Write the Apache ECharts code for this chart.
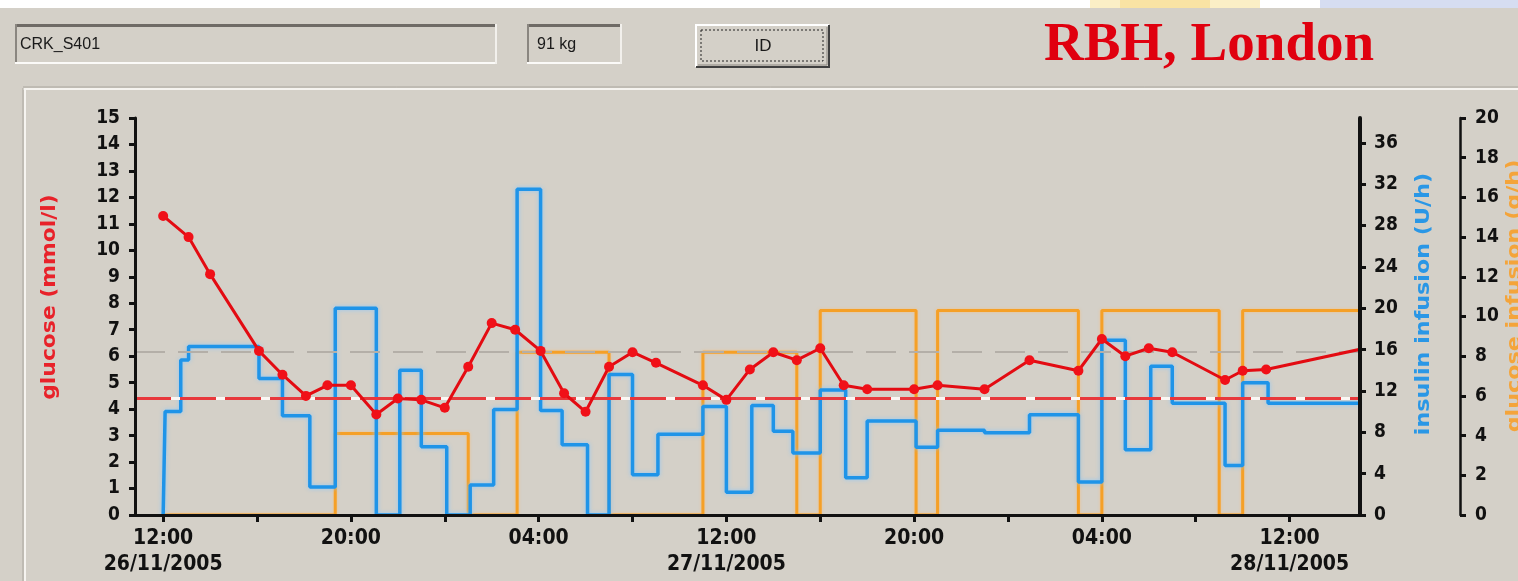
<!DOCTYPE html>
<html>
<head>
<meta charset="utf-8">
<title>RBH, London</title>
<script src="https://cdn.jsdelivr.net/npm/echarts@6/dist/echarts.min.js"></script>
<style>
  html, body { margin: 0; padding: 0; background: #d4d0c8; }
  #chart { width: 1518px; height: 581px; }
</style>
</head>
<body>
<div id="chart"></div>
<script>
// ---- header fields ----
const patientId = 'CRK_S401';
const bodyWeight = '91 kg';
const buttonLabel = 'ID';
const siteTitle = 'RBH, London';

// ---- axis titles ----
const glucoseAxisTitle = 'glucose (mmol/l)';
const insulinAxisTitle = 'insulin infusion (U/h)';
const infusionAxisTitle = 'glucose infusion (g/h)';

// ---- time window ----
const baseTime = '2005-11-26 12:00';
const viewStart = '2005-11-26 10:48';
const viewEnd = '2005-11-28 15:00';
const tickTimes = [
  '2005-11-26 12:00', '2005-11-26 16:00', '2005-11-26 20:00', '2005-11-27 00:00',
  '2005-11-27 04:00', '2005-11-27 08:00', '2005-11-27 12:00', '2005-11-27 16:00',
  '2005-11-27 20:00', '2005-11-28 00:00', '2005-11-28 04:00', '2005-11-28 08:00',
  '2005-11-28 12:00'
];
const labelTimes = [
  '2005-11-26 12:00', '2005-11-26 20:00', '2005-11-27 04:00', '2005-11-27 12:00',
  '2005-11-27 20:00', '2005-11-28 04:00', '2005-11-28 12:00'
];

// ---- blood glucose measurements (mmol/l) ----
const glucoseTimes = [
  '2005-11-26 12:00', '2005-11-26 13:05', '2005-11-26 14:00', '2005-11-26 16:05',
  '2005-11-26 17:05', '2005-11-26 18:05', '2005-11-26 19:00', '2005-11-26 20:00',
  '2005-11-26 21:05', '2005-11-26 22:00', '2005-11-26 23:00', '2005-11-27 00:00',
  '2005-11-27 01:00', '2005-11-27 02:00', '2005-11-27 03:00', '2005-11-27 04:05',
  '2005-11-27 05:05', '2005-11-27 06:00', '2005-11-27 07:00', '2005-11-27 08:00',
  '2005-11-27 09:00', '2005-11-27 11:00', '2005-11-27 12:00', '2005-11-27 13:00',
  '2005-11-27 14:00', '2005-11-27 15:00', '2005-11-27 16:00', '2005-11-27 17:00',
  '2005-11-27 18:00', '2005-11-27 20:00', '2005-11-27 21:00', '2005-11-27 23:00',
  '2005-11-28 00:55', '2005-11-28 03:00', '2005-11-28 04:00', '2005-11-28 05:00',
  '2005-11-28 06:00', '2005-11-28 07:00', '2005-11-28 09:15', '2005-11-28 10:00',
  '2005-11-28 11:00', '2005-11-28 16:00'
];
const glucoseValues = [
  11.3, 10.5, 9.1, 6.2, 5.3, 4.5, 4.9, 4.9,
  3.8, 4.4, 4.35, 4.05, 5.6, 7.25, 7.0, 6.2,
  4.6, 3.9, 5.6, 6.15, 5.75, 4.9, 4.35, 5.5,
  6.15, 5.85, 6.3, 4.9, 4.75, 4.75, 4.9, 4.75,
  5.85, 5.45, 6.65, 6.0, 6.3, 6.15, 5.1, 5.45,
  5.5, 6.45
];

// ---- insulin infusion rate changes (U/h) ----
const insulinTimes = [
  '2005-11-26 12:00', '2005-11-26 12:05', '2005-11-26 12:45', '2005-11-26 13:05',
  '2005-11-26 16:05', '2005-11-26 17:05', '2005-11-26 18:15', '2005-11-26 19:20',
  '2005-11-26 21:05', '2005-11-26 22:05', '2005-11-26 23:00', '2005-11-27 00:05',
  '2005-11-27 01:05', '2005-11-27 02:05', '2005-11-27 03:05', '2005-11-27 04:05',
  '2005-11-27 05:00', '2005-11-27 06:05', '2005-11-27 07:00', '2005-11-27 08:00',
  '2005-11-27 09:05', '2005-11-27 11:00', '2005-11-27 12:00', '2005-11-27 13:05',
  '2005-11-27 14:00', '2005-11-27 14:50', '2005-11-27 16:00', '2005-11-27 17:05',
  '2005-11-27 18:00', '2005-11-27 20:05', '2005-11-27 21:00', '2005-11-27 23:00',
  '2005-11-28 00:55', '2005-11-28 03:00', '2005-11-28 04:00', '2005-11-28 05:00',
  '2005-11-28 06:05', '2005-11-28 07:00', '2005-11-28 09:15', '2005-11-28 10:00',
  '2005-11-28 11:05', '2005-11-28 15:00'
];
const insulinRates = [
  0, 10, 15, 16.3, 13.2, 9.6, 2.7, 20,
  0, 14, 6.6, 0, 2.9, 10.2, 31.5, 10.1,
  6.8, 0, 13.6, 3.9, 7.8, 10.5, 2.2, 10.6,
  8.1, 6.0, 12.1, 3.6, 9.1, 6.55, 8.2, 7.95,
  9.7, 3.2, 16.9, 6.3, 14.4, 10.8, 4.8, 12.8,
  10.8, 10.8
];

// ---- glucose infusion rate changes (g/h) ----
const infusionTimes = [
  '2005-11-26 12:00', '2005-11-26 19:20', '2005-11-27 01:00', '2005-11-27 03:05',
  '2005-11-27 07:00', '2005-11-27 11:00', '2005-11-27 15:00', '2005-11-27 16:00',
  '2005-11-27 20:05', '2005-11-27 21:00', '2005-11-28 03:00', '2005-11-28 04:00',
  '2005-11-28 09:00', '2005-11-28 10:00', '2005-11-28 15:00'
];
const infusionRates = [0, 4.1, 0, 8.2, 0, 8.2, 0, 10.3, 0, 10.3, 0, 10.3, 0, 10.3, 10.3];

// ---- target band (mmol/l) ----
const targetLow = 4.4;
const targetHigh = 6.15;

// ---- y-axis scales ----
const glucoseMax = 15;
const insulinMax = 38.4;
const insulinTicks = [0, 4, 8, 12, 16, 20, 24, 28, 32, 36];
const infusionMax = 20;

// ---- helpers ----
function toUtc(s) {
  const [d, t] = s.split(' ');
  const [Y, M, D] = d.split('-').map(Number);
  const [h, m] = t.split(':').map(Number);
  return Date.UTC(Y, M - 1, D, h, m);
}
const baseMs = toUtc(baseTime);
const hoursOf = s => (toUtc(s) - baseMs) / 3600000;
const pairs = (times, vals) => times.map((t, i) => [hoursOf(t), vals[i]]);
const pad = n => String(n).padStart(2, '0');
function timeLabel(v) {
  const d = new Date(baseMs + Math.round(v * 3600000));
  const hm = pad(d.getUTCHours()) + ':' + pad(d.getUTCMinutes());
  if (d.getUTCHours() === 12) {
    return hm + '\n' + pad(d.getUTCDate()) + '/' + pad(d.getUTCMonth() + 1) + '/' + d.getUTCFullYear();
  }
  return hm;
}

const BG = '#d4d0c8';
const RED = '#e30b12';
const BLUE = '#1f94e8';
const ORANGE = '#f5a027';
const tickFont = '"DejaVu Sans Condensed", "DejaVu Sans", sans-serif';
const nameFont = '"DejaVu Sans", sans-serif';

const chart = echarts.init(document.getElementById('chart'), null, { renderer: 'canvas' });

const yLabelStyle = { color: '#111', fontFamily: tickFont, fontWeight: 'bold', fontSize: 19 };

// sunken text field helper (Windows-classic look)
function sunkenField(x, y, w, h) {
  return [
    { type: 'rect', shape: { x, y, width: w, height: h }, style: { fill: BG } },
    { type: 'rect', shape: { x, y, width: w, height: 3 }, style: { fill: '#6f6b66' } },
    { type: 'rect', shape: { x, y, width: 2, height: h }, style: { fill: '#8a8680' } },
    { type: 'rect', shape: { x, y: y + h - 2, width: w, height: 2 }, style: { fill: '#fbfaf8' } },
    { type: 'rect', shape: { x: x + w - 2, y, width: 2, height: h }, style: { fill: '#f2f0ec' } }
  ];
}

const graphics = [
  // top page strip
  { type: 'rect', shape: { x: 0, y: 0, width: 1518, height: 8 }, style: { fill: '#ffffff' } },
  { type: 'rect', shape: { x: 1090, y: 0, width: 170, height: 8 }, style: { fill: '#fbefc6' } },
  { type: 'rect', shape: { x: 1120, y: 0, width: 90, height: 8 }, style: { fill: '#f9e3a4' } },
  { type: 'rect', shape: { x: 1320, y: 0, width: 198, height: 8 }, style: { fill: '#d6ddf1' } },
  // panel frame
  { type: 'line', shape: { x1: 23, y1: 87, x2: 1518, y2: 87 }, style: { stroke: '#aaa69e', lineWidth: 1 } },
  { type: 'line', shape: { x1: 23, y1: 89, x2: 1518, y2: 89 }, style: { stroke: '#f6f4f0', lineWidth: 2 } },
  { type: 'line', shape: { x1: 23, y1: 88, x2: 23, y2: 581 }, style: { stroke: '#aaa69e', lineWidth: 1 } },
  { type: 'line', shape: { x1: 25, y1: 89, x2: 25, y2: 581 }, style: { stroke: '#f6f4f0', lineWidth: 2 } },
  ...sunkenField(15, 24, 482, 40),
  ...sunkenField(527, 24, 95, 40),
  // ID button (raised, with focus rectangle)
  { type: 'rect', shape: { x: 695, y: 24, width: 135, height: 44 }, style: { fill: BG } },
  { type: 'polyline', shape: { points: [[696, 67], [696, 25], [829, 25]] }, style: { stroke: '#ffffff', lineWidth: 2, fill: null } },
  { type: 'polyline', shape: { points: [[696, 67], [829, 67], [829, 25]] }, style: { stroke: '#404040', lineWidth: 2, fill: null } },
  { type: 'polyline', shape: { points: [[698, 65], [827, 65], [827, 27]] }, style: { stroke: '#8a8680', lineWidth: 1, fill: null } },
  { type: 'rect', shape: { x: 701, y: 30, width: 122, height: 31 }, style: { fill: null, stroke: '#222', lineWidth: 1, lineDash: [2, 2] } },
  { type: 'text', x: 20, y: 45, style: { text: patientId, font: '16px "Liberation Sans Narrow", "Liberation Sans", sans-serif', fill: '#1a1a1a', align: 'left', verticalAlign: 'middle' } },
  { type: 'text', x: 537, y: 45, style: { text: bodyWeight, font: '16px "Liberation Sans Narrow", "Liberation Sans", sans-serif', fill: '#1a1a1a', align: 'left', verticalAlign: 'middle' } },
  { type: 'text', x: 763, y: 46, style: { text: buttonLabel, font: '17px "Liberation Sans Narrow", "Liberation Sans", sans-serif', fill: '#1a1a1a', align: 'center', verticalAlign: 'middle' } },
  { type: 'text', x: 1209, y: 46, style: { text: siteTitle, font: 'bold 55px "Liberation Serif", serif', fill: '#e0000f', align: 'center', verticalAlign: 'middle' } },
  // axis titles
  { type: 'text', x: 50, y: 297, rotation: Math.PI / 2, scaleX: 1.15, style: { text: glucoseAxisTitle, font: 'bold 19px ' + nameFont, fill: '#e8222a', align: 'center', verticalAlign: 'middle' } },
  { type: 'text', x: 1424, y: 304, rotation: Math.PI / 2, scaleX: 1.17, style: { text: insulinAxisTitle, font: 'bold 19px ' + nameFont, fill: '#2a97e6', align: 'center', verticalAlign: 'middle' } },
  { type: 'text', x: 1515, y: 296, rotation: Math.PI / 2, scaleX: 1.17, style: { text: infusionAxisTitle, font: 'bold 19px ' + nameFont, fill: '#f4a43a', align: 'center', verticalAlign: 'middle' } }
];

const option = {
  animation: false,
  backgroundColor: BG,
  grid: { left: 135, right: 158, top: 118, bottom: 66, containLabel: false },
  xAxis: {
    type: 'value',
    min: hoursOf(viewStart),
    max: hoursOf(viewEnd),
    z: 8,
    splitLine: { show: false },
    axisLine: { show: true, onZero: false, lineStyle: { color: '#111', width: 3 } },
    axisTick: { show: true, length: 7, lineStyle: { color: '#111', width: 3 }, customValues: tickTimes.map(hoursOf) },
    axisLabel: {
      customValues: labelTimes.map(hoursOf),
      formatter: timeLabel,
      color: '#111', fontFamily: tickFont, fontWeight: 'bold', fontSize: 21, lineHeight: 26, margin: 11
    }
  },
  yAxis: [
    {
      type: 'value', min: 0, max: glucoseMax, interval: 1, position: 'left', z: 8,
      splitLine: { show: false },
      axisLine: { show: true, onZero: false, lineStyle: { color: '#111', width: 3 } },
      axisTick: { show: true, length: 6, lineStyle: { color: '#111', width: 3 } },
      axisLabel: Object.assign({ margin: 15 }, yLabelStyle)
    },
    {
      type: 'value', min: 0, max: insulinMax, position: 'right', z: 8,
      splitLine: { show: false },
      axisLine: { show: true, onZero: false, lineStyle: { color: '#111', width: 4 } },
      axisTick: { show: true, length: 6, lineStyle: { color: '#111', width: 3 }, customValues: insulinTicks },
      axisLabel: Object.assign({ margin: 14, customValues: insulinTicks }, yLabelStyle)
    },
    {
      type: 'value', min: 0, max: infusionMax, interval: 2, position: 'right', offset: 100, z: 8,
      splitLine: { show: false },
      axisLine: { show: true, onZero: false, lineStyle: { color: '#111', width: 2.5 } },
      axisTick: { show: true, length: 6, lineStyle: { color: '#111', width: 3 } },
      axisLabel: Object.assign({ margin: 15 }, yLabelStyle)
    }
  ],
  series: [
    {
      name: 'glucose infusion', type: 'line', step: 'end', yAxisIndex: 2,
      data: pairs(infusionTimes, infusionRates),
      symbol: 'none', z: 2,
      lineStyle: { color: ORANGE, width: 3, shadowColor: 'rgba(250,190,120,0.8)', shadowBlur: 3 }
    },
    {
      name: 'insulin infusion', type: 'line', step: 'end', yAxisIndex: 1,
      data: pairs(insulinTimes, insulinRates),
      symbol: 'none', z: 3,
      lineStyle: { color: BLUE, width: 3.5, shadowColor: 'rgba(140,200,250,0.9)', shadowBlur: 4 }
    },
    {
      name: 'glucose', type: 'line', yAxisIndex: 0,
      data: pairs(glucoseTimes, glucoseValues),
      symbol: 'circle', symbolSize: 10, z: 5,
      lineStyle: { color: RED, width: 3 },
      itemStyle: { color: '#f01018' },
      markLine: {
        silent: true, symbol: 'none', label: { show: false }, z: 4,
        data: [
          { yAxis: targetHigh, lineStyle: { color: '#b4afa8', width: 2, type: [30, 13] } },
          { yAxis: targetLow, lineStyle: { color: '#fbf7f4', width: 3, type: 'solid' } },
          { yAxis: targetLow, lineStyle: { color: '#e8383c', width: 3, type: [36, 9] } }
        ]
      }
    }
  ],
  graphic: graphics
};

chart.setOption(option);
</script>
</body>
</html>
